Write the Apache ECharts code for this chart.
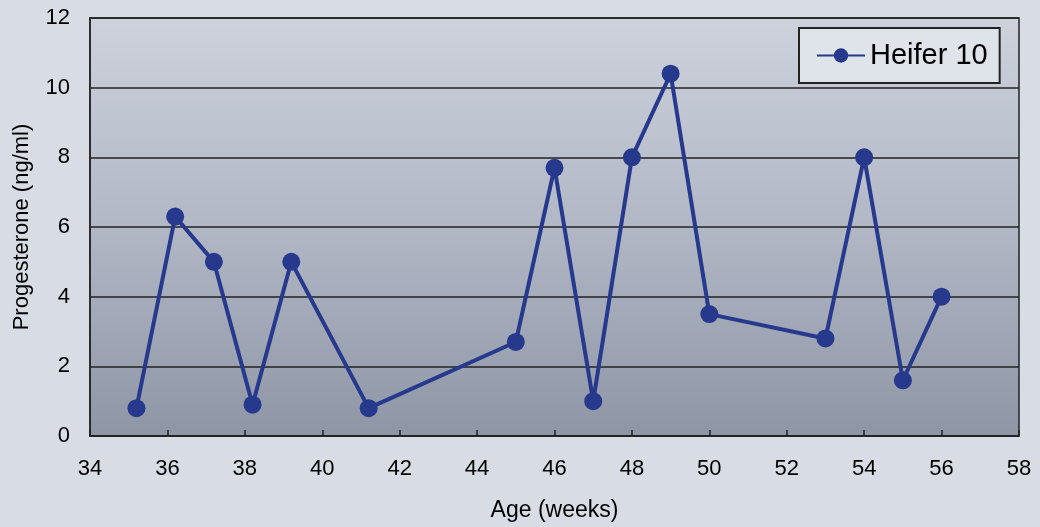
<!DOCTYPE html>
<html>
<head>
<meta charset="utf-8">
<script src="https://cdn.jsdelivr.net/npm/echarts@6/dist/echarts.min.js"></script>
<style>
html,body{margin:0;padding:0;background:#d8dde5;}
#c{width:1040px;height:527px;}
</style>
</head>
<body>
<div id="c"></div>
<script>
var seriesName = 'Heifer 10';
var ageWeeks = [35.2, 36.2, 37.2, 38.2, 39.2, 41.2, 45, 46, 47, 48, 49, 50, 53, 54, 55, 56];
var progesterone = [0.8, 6.3, 5.0, 0.9, 5.0, 0.8, 2.7, 7.7, 1.0, 8.0, 10.4, 3.5, 2.8, 8.0, 1.6, 4.0];
var xTicks = [34, 36, 38, 40, 42, 44, 46, 48, 50, 52, 54, 56, 58];
var yTicks = [0, 2, 4, 6, 8, 10, 12];

var points = ageWeeks.map(function (x, i) { return [x, progesterone[i]]; });
var font = "'Liberation Sans', Arial, sans-serif";
var navy = '#26398c';

var chart = echarts.init(document.getElementById('c'), null, {renderer: 'canvas'});
chart.setOption({
  backgroundColor: '#d8dde5',
  animation: false,
  grid: {
    left: 90, right: 21, top: 18, bottom: 90,
    show: true,
    borderColor: '#222',
    borderWidth: 1.5,
    backgroundColor: {
      type: 'linear', x: 0, y: 0, x2: 0, y2: 1,
      colorStops: [
        {offset: 0, color: '#cdd2dc'},
        {offset: 0.5, color: '#b1b7c5'},
        {offset: 1, color: '#8e95a5'}
      ]
    }
  },
  legend: {
    show: true,
    left: 799, top: 28,
    orient: 'vertical',
    backgroundColor: '#dfe3ea',
    borderColor: '#222',
    borderWidth: 2,
    borderRadius: 0,
    padding: [13, 12, 13, 17],
    itemWidth: 48,
    itemHeight: 18,
    itemGap: 0,
    textStyle: {fontFamily: font, fontSize: 29, color: '#000'},
    data: [seriesName]
  },
  xAxis: {
    type: 'value',
    min: xTicks[0], max: xTicks[xTicks.length - 1], interval: 2,
    name: 'Age (weeks)',
    nameLocation: 'middle',
    nameGap: 63,
    nameTextStyle: {fontFamily: font, fontSize: 23, color: '#000'},
    axisLine: {show: true, lineStyle: {color: '#222', width: 1.5}},
    axisTick: {show: true, inside: true, length: 6, lineStyle: {color: '#222', width: 1.5}},
    axisLabel: {fontFamily: font, fontSize: 22, color: '#000', margin: 22},
    splitLine: {show: false}
  },
  yAxis: {
    type: 'value',
    min: yTicks[0], max: yTicks[yTicks.length - 1], interval: 2,
    name: 'Progesterone (ng/ml)',
    nameLocation: 'middle',
    nameGap: 57,
    nameTextStyle: {fontFamily: font, fontSize: 22, color: '#000'},
    axisLine: {show: true, lineStyle: {color: '#222', width: 1.5}},
    axisTick: {show: false},
    axisLabel: {fontFamily: font, fontSize: 22, color: '#000', margin: 20},
    splitLine: {show: true, lineStyle: {color: '#222', width: 1.5}}
  },
  series: [{
    name: seriesName,
    type: 'line',
    data: points,
    symbol: 'circle',
    symbolSize: 18,
    lineStyle: {color: navy, width: 4},
    itemStyle: {color: navy}
  }]
});
</script>
</body>
</html>
